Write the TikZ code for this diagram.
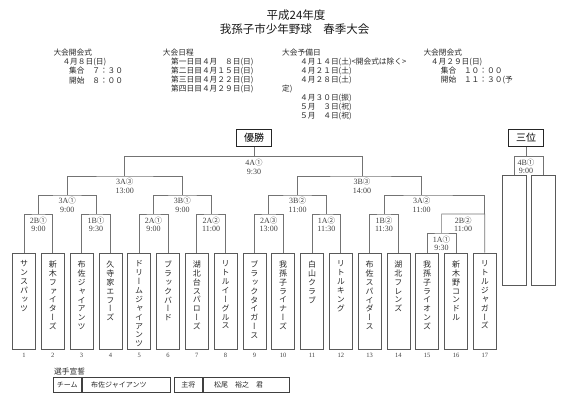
\documentclass[tikz,border=0pt]{standalone}
\usepackage{fontspec}
\setmainfont{Liberation Serif}
\newfontfamily\jp{Noto Sans CJK JP}
\newfontfamily\vjp[RawFeature=+vert]{Noto Sans CJK JP}
\newcommand\ci[1]{{\jp\fontsize{7.5}{8}\selectfont #1}}
\begin{document}
\begin{tikzpicture}[x=1pt,y=-1pt,
  br/.style={draw=black!55, line width=0.7pt},
  team/.style={draw=black!65, line width=0.8pt, minimum width=23pt, minimum height=96.5pt, anchor=north, inner sep=0pt},
  tname/.style={font=\vjp\fontsize{8}{8.9}\selectfont, align=center, inner sep=0pt, anchor=north, text=black!85},
  lab/.style={font=\fontsize{8}{8.5}\selectfont, align=center, inner sep=0pt, text=black!75},
  num/.style={font=\fontsize{6.5}{7}\selectfont, inner sep=0pt, text=black!75},
  hd/.style={font=\jp\fontsize{7.7}{9}\selectfont, anchor=west, inner sep=0pt, text=black!85},
  ttl/.style={font=\jp\fontsize{11.5}{13}\selectfont, inner sep=0pt, text=black!90},
  win/.style={draw=black!85, line width=1.8pt, minimum width=35pt, minimum height=17pt, inner sep=0pt, font=\jp\fontsize{10}{12}\selectfont},
  cell/.style={draw=black!75, line width=0.8pt, minimum height=15.4pt, inner sep=0pt, font=\jp\fontsize{7}{8}\selectfont, anchor=west, text=black!85}
]
\useasboundingbox (0,0) rectangle (568,407);

% title
\node[ttl] (ti1) at (296,15.5) {平成24年度};
\node[ttl] (ti2) at (294.5,29.5) {我孫子市少年野球　春季大会};

% block 1
\node[hd] (h11) at (53.3,52.3) {大会開会式};
\node[hd] (h12) at (62.3,61.7) {４月８日(日)};
\node[hd] (h13) at (69,70.9) {集合　７：３０};
\node[hd] (h14) at (69,80.1) {開始　８：００};
% block 2
\node[hd] (h21) at (162.7,52.3) {大会日程};
\node[hd] (h22) at (171,61.7) {第一日目４月　８日(日)};
\node[hd] (h23) at (171,70.9) {第二日目４月１５日(日)};
\node[hd] (h24) at (171,80.1) {第三日目４月２２日(日)};
\node[hd] (h25) at (171,89.3) {第四日目４月２９日(日)};
% block 3
\node[hd] (h31) at (282,52.3) {大会予備日};
\node[hd] (h32) at (300,61.7) {４月１４日(土)<開会式は除く>};
\node[hd] (h33) at (300,70.9) {４月２１日(土)};
\node[hd] (h34) at (300,80.1) {４月２８日(土)};
\node[hd] (h35) at (282,89.3) {定)};
\node[hd] (h36) at (300,98.5) {４月３０日(振)};
\node[hd] (h37) at (300,107.5) {５月　３日(祝)};
\node[hd] (h38) at (300,116.5) {５月　４日(祝)};
% block 4
\node[hd] (h41) at (423.3,52.3) {大会閉会式};
\node[hd] (h42) at (430.7,61.7) {４月２９日(日)};
\node[hd] (h43) at (440.7,70.9) {集合　１０：００};
\node[hd] (h44) at (440.7,80.1) {開始　１１：３０(予};

% team boxes
\foreach \i in {1,...,17}{
  \node[team] (t\i) at ({24+(\i-1)*28.8},252.5) {};
  \node[num] (n\i) at ({24+(\i-1)*28.8},355) {\i};
}
\node[tname] (s1) at ([yshift=-8pt]t1.north) {サ\\ン\\ス\\パ\\ッ\\ツ};
\node[tname] (s2) at ([yshift=-8pt]t2.north) {新\\木\\フ\\ァ\\イ\\タ\\ー\\ズ};
\node[tname] (s3) at ([yshift=-8pt]t3.north) {布\\佐\\ジ\\ャ\\イ\\ア\\ン\\ツ};
\node[tname] (s4) at ([yshift=-8pt]t4.north) {久\\寺\\家\\エ\\フ\\ー\\ズ};
\node[tname] (s5) at ([yshift=-8pt]t5.north) {ド\\リ\\ー\\ム\\ジ\\ャ\\イ\\ア\\ン\\ツ};
\node[tname] (s6) at ([yshift=-8pt]t6.north) {ブ\\ラ\\ッ\\ク\\バ\\ー\\ド};
\node[tname] (s7) at ([yshift=-8pt]t7.north) {湖\\北\\台\\ス\\パ\\ロ\\ー\\ズ};
\node[tname] (s8) at ([yshift=-8pt]t8.north) {リ\\ト\\ル\\イ\\ー\\グ\\ル\\ス};
\node[tname] (s9) at ([yshift=-8pt]t9.north) {ブ\\ラ\\ッ\\ク\\タ\\イ\\ガ\\ー\\ス};
\node[tname] (s10) at ([yshift=-8pt]t10.north) {我\\孫\\子\\ラ\\イ\\ナ\\ー\\ズ};
\node[tname] (s11) at ([yshift=-8pt]t11.north) {白\\山\\ク\\ラ\\ブ};
\node[tname] (s12) at ([yshift=-8pt]t12.north) {リ\\ト\\ル\\キ\\ン\\グ};
\node[tname] (s13) at ([yshift=-8pt]t13.north) {布\\佐\\ス\\パ\\イ\\ダ\\ー\\ス};
\node[tname] (s14) at ([yshift=-8pt]t14.north) {湖\\北\\フ\\レ\\ン\\ズ};
\node[tname] (s15) at ([yshift=-8pt]t15.north) {我\\孫\\子\\ラ\\イ\\オ\\ン\\ズ};
\node[tname] (s16) at ([yshift=-8pt]t16.north) {新\\木\\野\\コ\\ン\\ド\\ル};
\node[tname] (s17) at ([yshift=-8pt]t17.north) {リ\\ト\\ル\\ジ\\ャ\\ガ\\ー\\ズ};

% round 1
\coordinate (a1) at (38.4,214);
\coordinate (a3) at (96,214);
\coordinate (a5) at (153.6,214);
\coordinate (a7) at (211.2,214);
\coordinate (a9) at (268.8,214);
\coordinate (a11) at (326.4,214);
\coordinate (a13) at (384,214);
\coordinate (a15) at (441.6,233);
\coordinate (b17) at (484.8,214);
\draw[br] (t1.north) |- (a1) -| (t2.north);
\draw[br] (t3.north) |- (a3) -| (t4.north);
\draw[br] (t5.north) |- (a5) -| (t6.north);
\draw[br] (t7.north) |- (a7) -| (t8.north);
\draw[br] (t9.north) |- (a9) -| (t10.north);
\draw[br] (t11.north) |- (a11) -| (t12.north);
\draw[br] (t13.north) |- (a13) -| (t14.north);
\draw[br] (t15.north) |- (a15) -| (t16.north);
\draw[br] (a15) |- (b17) -- (t17.north);
% round 2
\coordinate (c1) at (67.2,195);
\coordinate (c2) at (182.4,195);
\coordinate (c3) at (297.6,195);
\coordinate (c4) at (421.7,195);
\draw[br] (a1) |- (c1) -| (a3);
\draw[br] (a5) |- (c2) -| (a7);
\draw[br] (a9) |- (c3) -| (a11);
\draw[br] (a13) |- (c4) -| (b17);
% round 3
\coordinate (d1) at (124.8,176);
\coordinate (d2) at (362,176);
\draw[br] (c1) |- (d1) -| (c2);
\draw[br] (c3) |- (d2) -| (c4);
% final
\coordinate (e1) at (254,156.7);
\draw[br] (d1) |- (e1) -| (d2);
\node[win] (champ) at (254,138) {優勝};
\draw[br] (e1) -- (champ.south);

% third place
\node[win] (third) at (526,138) {三位};
\node[team, minimum width=23.8pt, minimum height=109.5pt] (u1) at (514.4,175) {};
\node[team, minimum width=23.8pt, minimum height=109.5pt] (u2) at (543,175) {};
\coordinate (f1) at (526,156.7);
\draw[br] (u1.north) |- (f1) -| (u2.north);
\draw[br] (f1) -- (third.south);

% labels
\node[lab] (L1) at (38.4,224.5) {2B\ci{①}\\9:00};
\node[lab] (L2) at (96,224.5) {1B\ci{①}\\9:30};
\node[lab] (L3) at (153.6,224.5) {2A\ci{①}\\9:00};
\node[lab] (L4) at (211.2,224.5) {2A\ci{②}\\11:00};
\node[lab] (L5) at (268.8,224.5) {2A\ci{③}\\13:00};
\node[lab] (L6) at (326.4,224.5) {1A\ci{②}\\11:30};
\node[lab] (L7) at (384,224.5) {1B\ci{②}\\11:30};
\node[lab] (L8) at (441.6,243.5) {1A\ci{①}\\9:30};
\node[lab] (L9) at (463.2,224.5) {2B\ci{②}\\11:00};
\node[lab] (L10) at (67.2,205) {3A\ci{①}\\9:00};
\node[lab] (L11) at (182.4,205) {3B\ci{①}\\9:00};
\node[lab] (L12) at (297.6,205) {3B\ci{②}\\11:00};
\node[lab] (L13) at (421.7,205) {3A\ci{②}\\11:00};
\node[lab] (L14) at (124.8,186) {3A\ci{③}\\13:00};
\node[lab] (L15) at (362,186) {3B\ci{③}\\14:00};
\node[lab] (L16) at (254,166.7) {4A\ci{①}\\9:30};
\node[lab] (L17) at (526,166.2) {4B\ci{①}\\9:00};

% bottom table
\node[hd] (sen) at (54,371.7) {選手宣誓};
\node[cell, minimum width=28.3pt] (ca1) at (52.7,385) {チーム};
\node[cell, minimum width=85.7pt, text width=80pt, align=left, inner xsep=4pt] (ca2) at (ca1.east) {\hspace*{5pt}布佐ジャイアンツ};
\node[cell, minimum width=27.7pt] (cb1) at (174,385) {主将};
\node[cell, minimum width=86.6pt, text width=80pt, align=left, inner xsep=3pt] (cb2) at (cb1.east) {\hspace*{8pt}松尾　裕之　君};
\end{tikzpicture}
\end{document}
